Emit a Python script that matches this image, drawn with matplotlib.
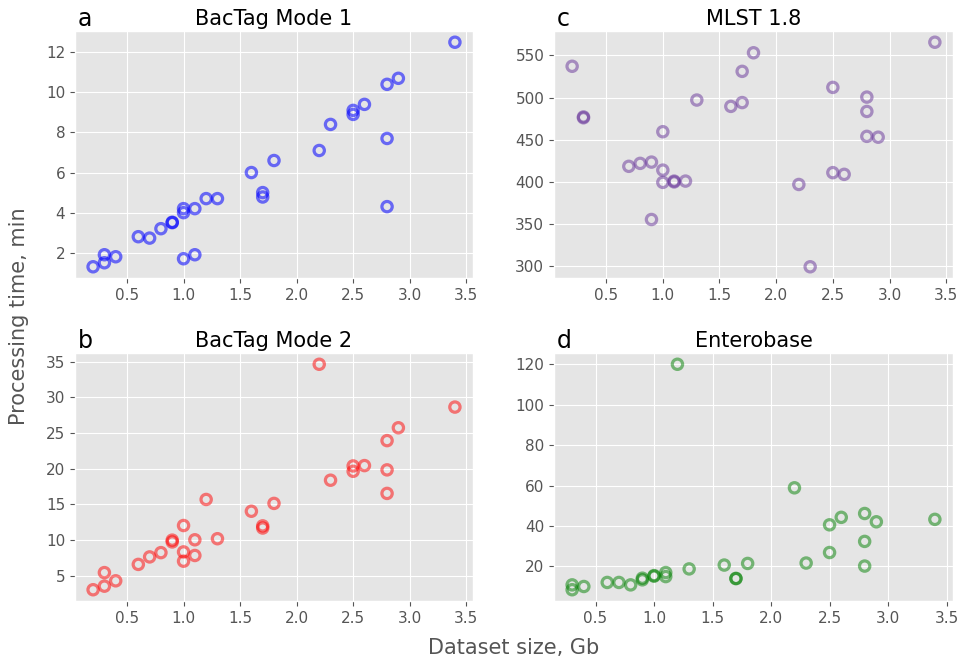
import matplotlib
matplotlib.use("Agg")
import matplotlib.pyplot as plt

# Panel a: BacTag Mode 1
size_a = [0.2, 0.3, 0.3, 0.4, 0.6, 0.7, 0.8, 0.9, 0.9, 1.0, 1.0, 1.0, 1.1, 1.1, 1.2,
          1.3, 1.6, 1.7, 1.7, 1.8, 2.2, 2.3, 2.5, 2.5, 2.6, 2.8, 2.8, 2.8, 2.9, 3.4]
time_a = [1.3, 1.9, 1.5, 1.8, 2.8, 2.73, 3.2, 3.5, 3.52, 4.2, 4.0, 1.7, 4.2, 1.9, 4.7,
          4.7, 6.0, 5.0, 4.78, 6.6, 7.1, 8.4, 9.1, 8.9, 9.4, 10.4, 7.7, 4.3, 10.7, 12.5]

# Panel b: BacTag Mode 2
size_b = [0.2, 0.3, 0.3, 0.4, 0.6, 0.7, 0.8, 0.9, 0.9, 1.0, 1.0, 1.0, 1.1, 1.1, 1.2,
          1.3, 1.6, 1.7, 1.7, 1.8, 2.2, 2.3, 2.5, 2.5, 2.6, 2.8, 2.8, 2.8, 2.9, 3.4]
time_b = [3.05, 5.45, 3.55, 4.3, 6.6, 7.65, 8.25, 10.0, 9.75, 12.05, 8.35, 7.05, 10.05, 7.85, 15.7,
          10.2, 14.05, 12.0, 11.7, 15.15, 34.65, 18.4, 20.4, 19.65, 20.45, 23.95, 19.85, 16.55, 25.75, 28.65]

# Panel c: MLST 1.8
size_c = [0.2, 0.3, 0.3, 0.7, 0.8, 0.9, 0.9, 1.0, 1.0, 1.0, 1.1, 1.1, 1.2, 1.3,
          1.6, 1.7, 1.7, 1.8, 2.2, 2.3, 2.5, 2.5, 2.6, 2.8, 2.8, 2.8, 2.9, 3.4]
time_c = [537, 477, 476, 418.5, 422, 423.5, 355.5, 459.5, 414, 399.5, 401, 400, 401, 497,
          489.5, 531, 494, 553, 397, 299.5, 512, 411, 409, 500.5, 483.5, 454, 453, 565.5]

# Panel d: Enterobase
size_d = [0.3, 0.3, 0.4, 0.6, 0.7, 0.8, 0.9, 0.9, 1.0, 1.0, 1.1, 1.1, 1.2, 1.3,
          1.6, 1.7, 1.7, 1.8, 2.2, 2.3, 2.5, 2.5, 2.6, 2.8, 2.8, 2.8, 2.9, 3.4]
time_d = [10.9, 8.5, 10.1, 12.1, 12.1, 10.9, 14.2, 13.4, 15.5, 15.2, 17.0, 15.0, 120, 18.8,
          20.7, 14.1, 14.0, 21.5, 58.9, 21.7, 40.6, 26.9, 44.3, 46.2, 32.4, 20.2, 42.1, 43.3]

panels = [
    ("a", "BacTag Mode 1", size_a, time_a, "blue", 0.55),
    ("b", "BacTag Mode 2", size_b, time_b, "red", 0.5),
    ("c", "MLST 1.8", size_c, time_c, "rebeccapurple", 0.5),
    ("d", "Enterobase", size_d, time_d, "green", 0.5),
]

plt.style.use("ggplot")
fig = plt.figure(figsize=(9.65, 6.61), dpi=100)

W, H = 965, 661
rects = {
    "a": (75, 31, 473, 278),
    "c": (554, 31, 953, 278),
    "b": (75, 353, 473, 601),
    "d": (554, 353, 953, 601),
}

for letter, title, xs, ys, color, alpha in panels:
    l, t, r, b = rects[letter]
    ax = fig.add_axes([l / W, (H - b) / H, (r - l) / W, (b - t) / H])
    ax.scatter(xs, ys, s=55, facecolors="none", edgecolors=color,
               linewidths=2.3, alpha=alpha)
    ax.set_title(title, fontsize=15, color="black", pad=4)
    ax.text(3 / (r - l), 1.0, letter, transform=ax.transAxes, fontsize=17,
            color="black", ha="left", va="baseline")
    ax.texts[-1].set_y(1 + 5 / (b - t))
    ax.tick_params(labelsize=11, colors="#555555", labelcolor="#555555")
    ax.set_xticks([0.5, 1.0, 1.5, 2.0, 2.5, 3.0, 3.5])

fig.text(514 / W, 13 / H, "Dataset size, Gb", ha="center", va="center",
         fontsize=15, color="#555555")
fig.text(19 / W, 0.5 + (661 / 2 - 316) / H, "Processing time, min", ha="center", va="center",
         rotation=90, fontsize=15, color="#555555")

fig.savefig("out.png", dpi=100)
